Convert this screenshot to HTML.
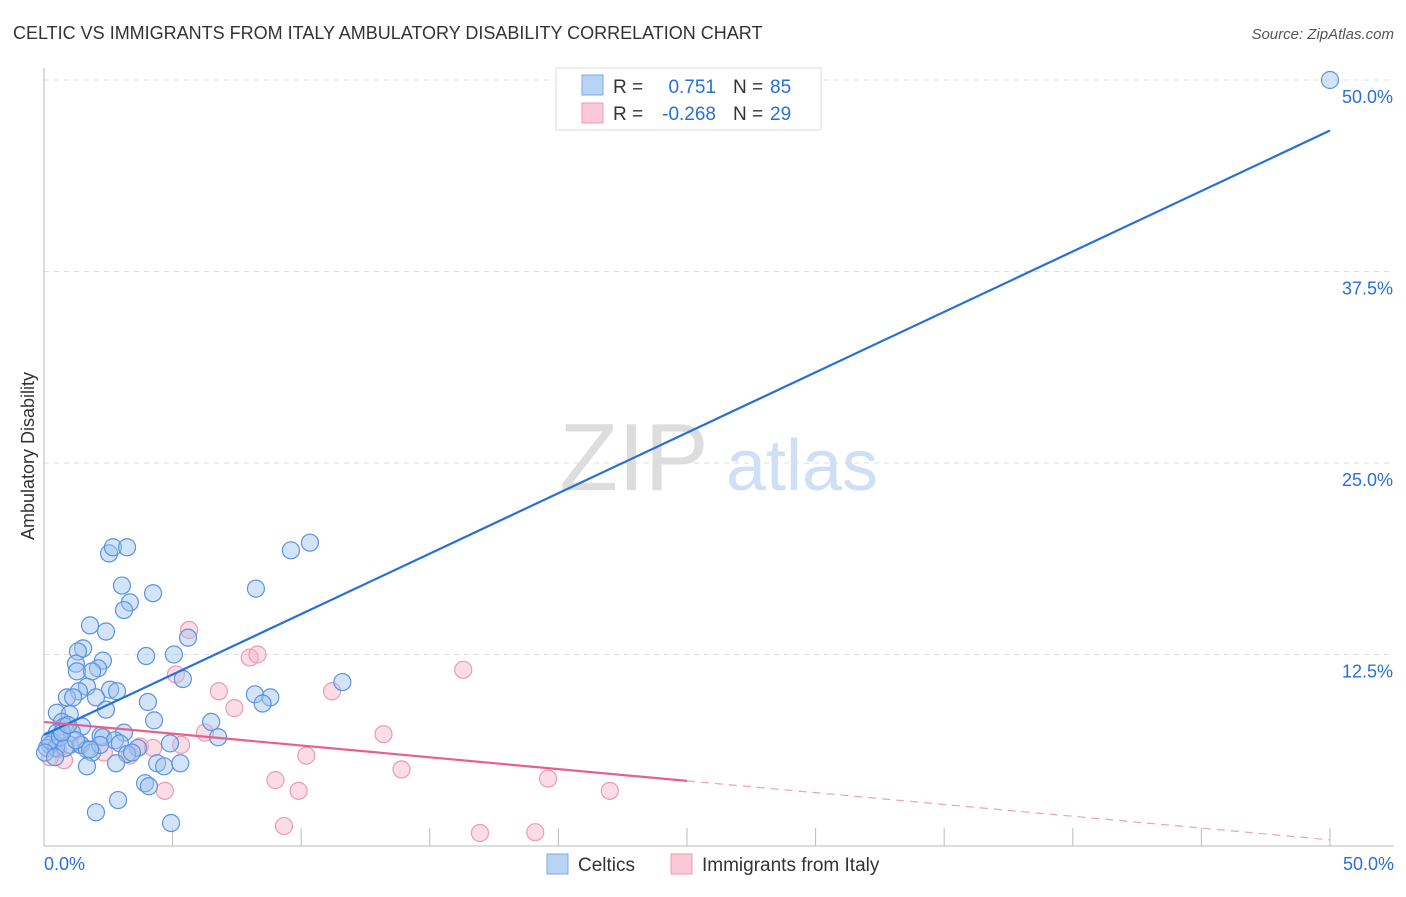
<!DOCTYPE html>
<html><head><meta charset="utf-8"><style>
body{margin:0;background:#fff;font-family:"Liberation Sans",sans-serif}
svg text{font-family:"Liberation Sans",sans-serif}
</style></head><body>
<svg width="1406" height="892" id="c">
<text x="13" y="39" font-size="18" fill="#333">CELTIC VS IMMIGRANTS FROM ITALY AMBULATORY DISABILITY CORRELATION CHART</text>
<text x="1394" y="39" font-size="15" fill="#555" font-style="italic" text-anchor="end">Source: ZipAtlas.com</text>
<text x="634" y="490" font-size="96" fill="#ddd" font-family="Liberation Serif,serif" text-anchor="middle">ZIP</text>
<text x="802" y="490" font-size="72" fill="#cfe0f5" text-anchor="middle">atlas</text>
<text transform="translate(34,456) rotate(-90)" font-size="18" fill="#333" text-anchor="middle">Ambulatory Disability</text>
<g id="grid"></g><g id="pts"></g><g id="lines"></g>
<g>
<rect x="556" y="68" width="265" height="62" fill="#fff" stroke="#ddd"/>
<rect x="582" y="75" width="21" height="20" fill="#b9d3f5" stroke="#7aa8e8"/>
<rect x="582" y="103" width="21" height="20" fill="#fac8d7" stroke="#ef9ab5"/>
<text x="613" y="93" font-size="19" fill="#333">R =</text><text x="716" y="93" font-size="19" fill="#2a6fd6" text-anchor="end">0.751</text>
<text x="733" y="93" font-size="19" fill="#333">N =</text><text x="770" y="93" font-size="19" fill="#2a6fd6">85</text>
<text x="613" y="120" font-size="19" fill="#333">R =</text><text x="716" y="120" font-size="19" fill="#2a6fd6" text-anchor="end">-0.268</text>
<text x="733" y="120" font-size="19" fill="#333">N =</text><text x="770" y="120" font-size="19" fill="#2a6fd6">29</text>
</g>
<g>
<rect x="547" y="854" width="21" height="20" fill="#b9d3f5" stroke="#7aa8e8"/>
<text x="578" y="871" font-size="19" fill="#333">Celtics</text>
<rect x="671" y="854" width="21" height="20" fill="#fac8d7" stroke="#ef9ab5"/>
<text x="702" y="871" font-size="19" fill="#333">Immigrants from Italy</text>
</g>
<text x="44" y="870" font-size="18" fill="#2a6fd6">0.0%</text>
<text x="1394" y="870" font-size="18" fill="#2a6fd6" text-anchor="end">50.0%</text>
</svg>
<script>
const blueX=[50,2.53,2.68,3.23,9.6,10.34,3.03,8.24,4.24,3.34,3.11,1.79,2.41,5.6,1.52,1.32,3.97,5.05,2.29,1.24,2.1,1.28,1.87,5.4,11.6,1.67,2.57,2.84,1.36,0.89,1.13,2.02,8.2,8.8,8.5,4.04,2.41,0.5,1.0,4.28,6.5,0.7,0.78,1.48,0.5,1.09,3.11,2.2,6.77,0.35,1.0,1.44,2.29,2.76,2.95,3.65,4.9,0.23,0.12,0.47,1.67,1.87,3.23,4.4,4.67,5.3,1.67,2.8,3.93,4.08,2.88,2.02,4.94,0.23,0.62,0.04,0.82,1.24,2.18,0.7,0.93,1.79,3.42,0.43];
const blueY=[50,19.1,19.5,19.5,19.3,19.8,17.0,16.8,16.5,15.9,15.4,14.4,14.0,13.6,12.9,12.7,12.4,12.5,12.1,11.9,11.6,11.4,11.4,10.9,10.7,10.4,10.2,10.1,10.1,9.7,9.7,9.7,9.9,9.7,9.3,9.4,8.9,8.7,8.6,8.2,8.1,8.1,7.8,7.8,7.4,7.4,7.4,7.2,7.1,6.8,6.6,6.6,7.1,6.9,6.7,6.4,6.7,6.6,6.4,6.4,6.3,6.1,6.0,5.4,5.2,5.4,5.2,5.4,4.1,3.9,3.0,2.2,1.5,6.9,7.1,6.1,6.4,6.9,6.6,7.4,7.9,6.3,6.1,5.8];
const pinkX=[5.64,5.13,8.0,8.3,16.3,6.8,11.2,7.4,6.26,13.2,5.33,3.73,4.24,10.2,13.9,9.0,19.6,9.9,22.0,4.7,9.33,16.95,19.1,0.78,0.23,0.54,2.33,3.34,1.4];
const pinkY=[14.1,11.2,12.3,12.5,11.5,10.1,10.1,9.0,7.4,7.3,6.6,6.5,6.4,5.9,5.0,4.3,4.4,3.6,3.6,3.6,1.3,0.85,0.9,5.6,5.8,6.3,6.1,5.9,6.6];
const yTicks=[12.5,25,37.5,50];
const xTicks=[5,10,15,20,25,30,35,40,45,50];
const blueTrend=[7.25,46.7];
const pinkTrend=[8.1,0.4];
const NS='http://www.w3.org/2000/svg';
const sx=v=>44+v*25.72, sy=v=>846-v*15.32;
function mk(t,a,p){const e=document.createElementNS(NS,t);for(const k in a)e.setAttribute(k,a[k]);p.appendChild(e);return e;}
const grid=document.getElementById('grid');
for(const t of yTicks){
 const l=mk('line',{x1:44,x2:1394,y1:sy(t),y2:sy(t),stroke:'#ddd','stroke-dasharray':'5,5'},grid);
 
 
 const tx=mk('text',{x:1393,y:sy(t)+23,'font-size':18,fill:'#2a6fd6','text-anchor':'end'},grid);
 tx.textContent=t.toFixed(1)+'%';
 
 
}
const ax=mk('line',{x1:44,x2:44,y1:68,y2:846,stroke:'#bbb'},grid);


const bx=mk('line',{x1:44,x2:1394,y1:846,y2:846,stroke:'#bbb'},grid);


for(const t of xTicks){
 const l=mk('line',{x1:sx(t),x2:sx(t),y1:828,y2:846,stroke:'#bbb'},grid);
 
 
}
const pts=document.getElementById('pts');
pinkX.forEach((x,i)=>{const c=mk('circle',{cx:sx(x),cy:sy(pinkY[i]),r:8.5,fill:'rgba(248,180,200,0.45)',stroke:'#ee9ab4','stroke-width':1.2},pts);
 
 });
blueX.forEach((x,i)=>{const c=mk('circle',{cx:sx(x),cy:sy(blueY[i]),r:8.5,fill:'rgba(160,196,240,0.45)',stroke:'#5b93e0','stroke-width':1.2},pts);
 
 });
const lines=document.getElementById('lines');
const b=mk('line',{x1:sx(0),y1:sy(blueTrend[0]),x2:sx(50),y2:sy(blueTrend[1]),stroke:'#2a6fd6','stroke-width':2.2},lines);


const pm=(pinkTrend[0]+pinkTrend[1])/2;
const p1=mk('line',{x1:sx(0),y1:sy(pinkTrend[0]),x2:sx(25),y2:sy(pm),stroke:'#e8608a','stroke-width':2.2},lines);


const p2=mk('line',{x1:sx(25),y1:sy(pm),x2:sx(50),y2:sy(pinkTrend[1]),stroke:'#eea0b8','stroke-width':1.2,'stroke-dasharray':'8,6'},lines);


</script>
</body></html>
